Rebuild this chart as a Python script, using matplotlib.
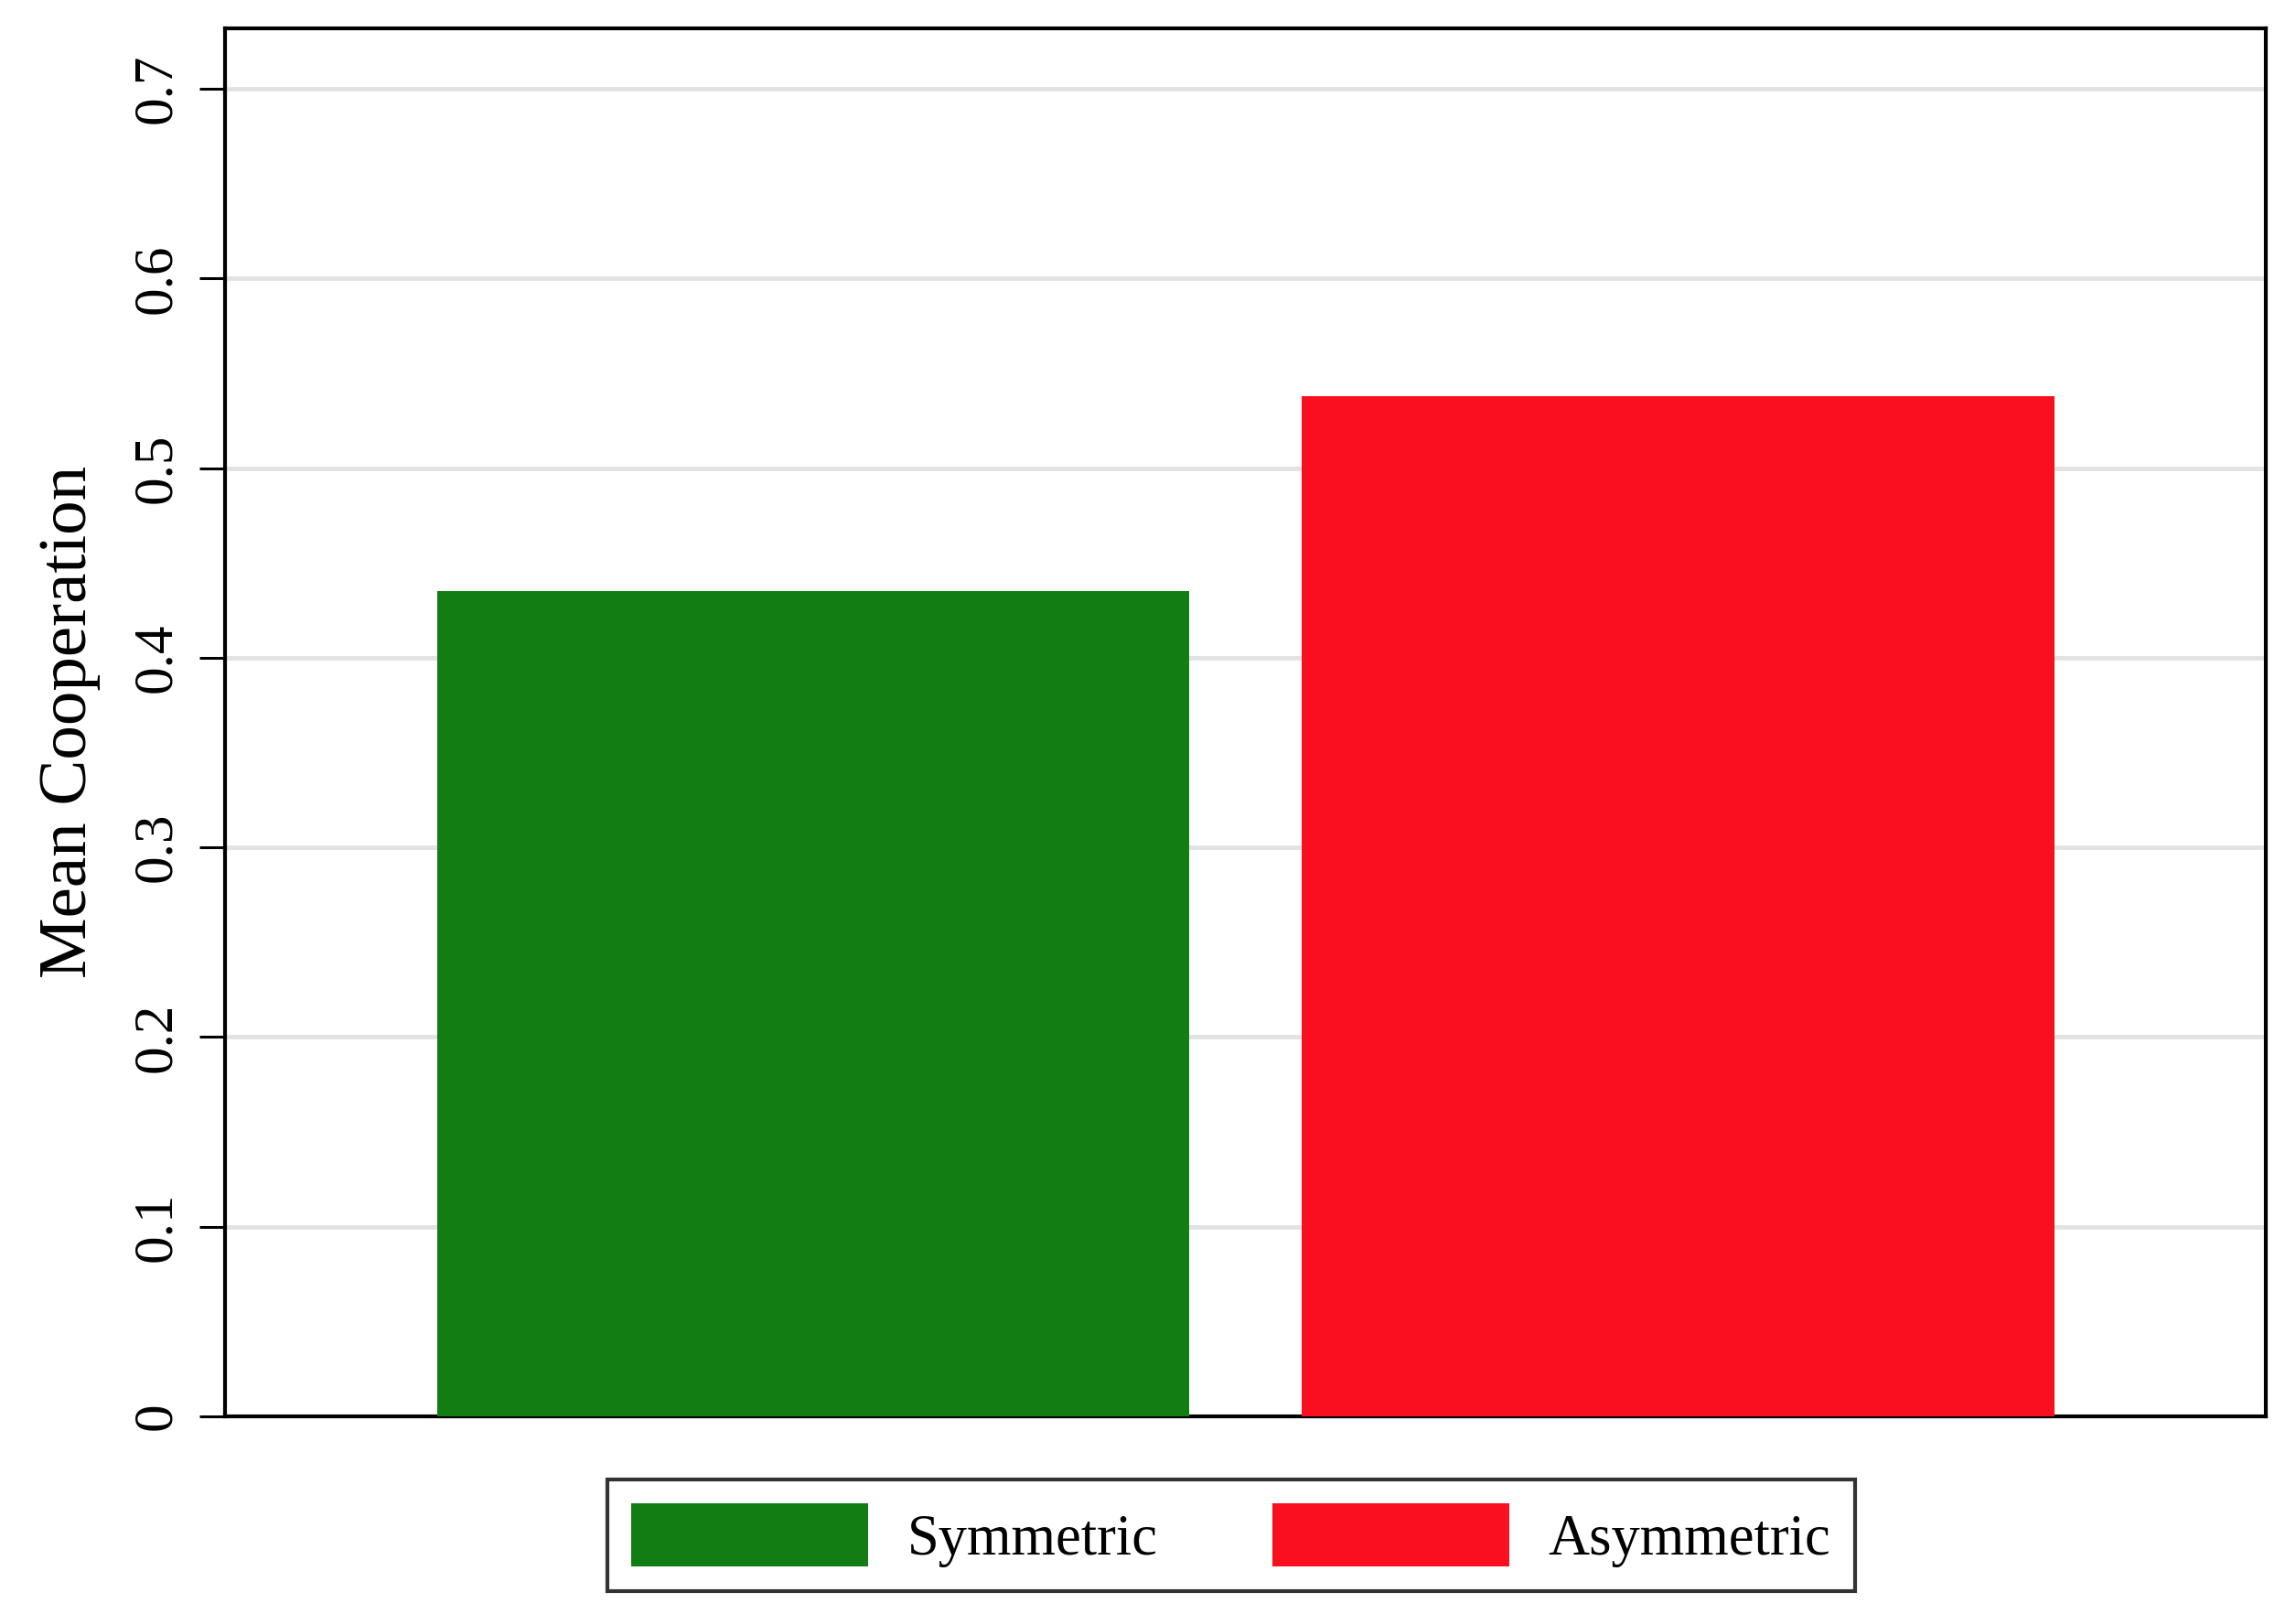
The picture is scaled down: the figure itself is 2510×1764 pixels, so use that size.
import numpy as np
import matplotlib
matplotlib.use("Agg")
import matplotlib.pyplot as plt
from matplotlib.patches import Patch

# data
groups = ["Symmetric", "Asymmetric"]
mean_coop = [0.435, 0.538]
colors = ["#117D13", "#FA0F1E"]
yticks = [0, 0.1, 0.2, 0.3, 0.4, 0.5, 0.6, 0.7]
ytick_labels = ["0", "0.1", "0.2", "0.3", "0.4", "0.5", "0.6", "0.7"]

plt.rcParams['font.family'] = ['Liberation Serif', 'DejaVu Serif']

fig = plt.figure(figsize=(25.10, 17.64), dpi=100)
ax = fig.add_axes([0.098, 0.1225, 0.889, 0.860])

x = np.arange(len(groups))
ax.bar(x, mean_coop, width=0.87, color=colors, zorder=3)

ax.set_xlim(-0.68, 1.68)
ax.set_ylim(0, 0.732)
ax.set_xticks([])
ax.set_yticks(yticks)
ax.set_yticklabels(ytick_labels, rotation=90, va='center', fontsize=44)
ax.tick_params(axis='y', length=20, width=2.2, pad=14, color='black')

ax.yaxis.grid(True, color='#E2E2E2', linewidth=3.5, zorder=1)
ax.set_axisbelow(True)
for sp in ax.spines.values():
    sp.set_linewidth(3)
    sp.set_color('black')

ax.set_ylabel("Mean Cooperation", fontsize=54, labelpad=24)

handles = [Patch(facecolor=c, edgecolor='none') for c in colors]
leg = fig.legend(handles, groups, loc='center', bbox_to_anchor=(0.5362, 0.0488),
                 ncol=2, fontsize=45, frameon=True, fancybox=False,
                 handlelength=4.15, handleheight=1.32, handletextpad=0.68,
                 columnspacing=2.0, borderpad=0.42)
leg.get_frame().set_edgecolor('black')
leg.get_frame().set_linewidth(3)

fig.savefig("out.png", dpi=100, facecolor='white')
